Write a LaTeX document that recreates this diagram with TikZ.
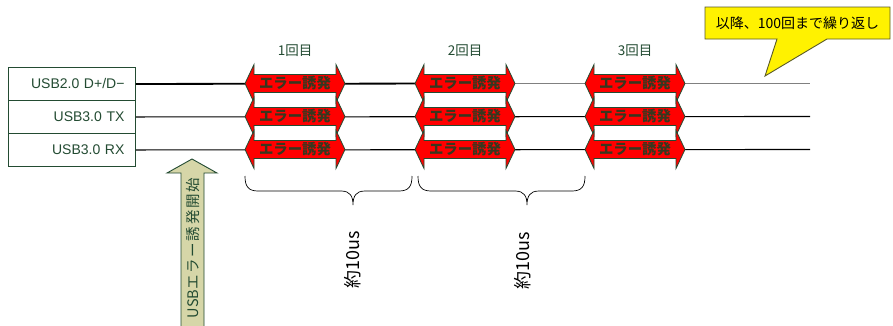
\documentclass[tikz,border=0pt]{standalone}
\usepackage{fontspec}
\setmainfont{Liberation Sans}
\newfontfamily\jp{Noto Sans CJK JP}
\definecolor{dkgreen}{RGB}{35,75,50}
\definecolor{errtext}{RGB}{55,55,30}
\definecolor{khakifill}{RGB}{214,214,168}
\definecolor{callborder}{RGB}{90,90,40}
\definecolor{linegray}{RGB}{128,128,128}
\tikzset{
  labelbox/.style={draw=dkgreen, line width=0.9pt, anchor=north west, minimum height=33pt,
    inner xsep=11pt, inner ysep=0pt, text width=105pt, align=right, text=dkgreen,
    font=\fontsize{14}{16}\selectfont},
  errarrow/.style={fill=red, draw=dkgreen, line width=0.8pt, line join=miter},
  errlabel/.style={text=errtext, inner sep=0pt, font=\jp\bfseries\fontsize{14.4}{16}\selectfont},
  countlabel/.style={text=dkgreen, inner sep=0pt, font=\jp\fontsize{13.5}{15}\selectfont},
  bracestyle/.style={draw=black, line width=0.7pt},
  durlabel/.style={rotate=90, text=black, inner sep=0pt, font=\jp\fontsize{18}{20}\selectfont},
  thickrow/.style={line width=1.8pt},
  thinrow/.style={line width=1.1pt, draw=black}
}
\begin{document}
\begin{tikzpicture}[x=1pt, y=-1pt]
\useasboundingbox (0,0) rectangle (893,325);
\fill[white] (0,0) rectangle (893,325);

% signal boxes
\node[labelbox] (b1) at (8,67) {USB2.0 D+/D\textminus};
\node[labelbox] (b2) at (8,100) {USB3.0 TX};
\node[labelbox] (b3) at (8,133) {USB3.0 RX};

% signal lines
\coordinate (mid1) at (465,83.5);
\coordinate (e1) at (810,83.5);
\coordinate (e2) at (810,116.5);
\coordinate (e3) at (810,149.5);
\draw[thickrow, draw=black] (b1.east) -- (mid1);
\draw[thickrow, draw=linegray] (mid1) -- (e1);
\draw[thinrow] (b2.east) -- (e2);
\draw[thinrow] (b3.east) -- (e3);

% error arrows
\foreach \g/\L in {1/245,2/415,3/585}{
  \foreach \r/\c in {1/83.5,2/116.5,3/149.5}{
    \path[errarrow] (\L,\c) -- (\L+9,\c-19) -- (\L+9,\c-9) -- (\L+91,\c-9) -- (\L+91,\c-19)
      -- (\L+100,\c) -- (\L+91,\c+19) -- (\L+91,\c+9) -- (\L+9,\c+9) -- (\L+9,\c+19) -- cycle;
    \node[errlabel] (err-\g-\r) at (\L+50,\c) {エラー誘発};
  }
}

% count labels
\node[countlabel] (n1) at (295,51) {1回目};
\node[countlabel] (n2) at (465,51) {2回目};
\node[countlabel] (n3) at (635,51) {3回目};

% braces
\draw[bracestyle] (245,176) .. controls (245,186) and (248,191) .. (258,191) -- (341,191)
  .. controls (350,191) and (353,196) .. (353,205)
  .. controls (353,196) and (356,191) .. (365,191) -- (399,191)
  .. controls (409,191) and (412,186) .. (412,176);
\draw[bracestyle] (418,176) .. controls (418,186) and (421,191) .. (431,191) -- (515,191)
  .. controls (524,191) and (527,196) .. (527,205)
  .. controls (527,196) and (530,191) .. (539,191) -- (572,191)
  .. controls (582,191) and (585,186) .. (585,176);
\node[durlabel] (d1) at (353,260) {約10us};
\node[durlabel] (d2) at (523,261) {約10us};

% start arrow
\filldraw[fill=khakifill, draw=dkgreen, line width=0.9pt, line join=miter]
  (181,327) -- (181,173) -- (167,173) -- (192,159) -- (217,173) -- (204,173) -- (204,327);
\node[rotate=90, text=dkgreen, inner sep=0pt,
  font=\jp\fontsize{14.5}{16}\selectfont] (start) at (193,248)
  {USB\addfontfeatures{LetterSpace=12}エラー誘発開始};

% callout
\filldraw[fill=yellow, draw=callborder, line width=0.9pt, line join=miter]
  (705,7) -- (890,7) -- (890,39) -- (827,39) -- (765,76) -- (777,39) -- (705,39) -- cycle;
\node[text=black, inner sep=0pt, font=\jp\fontsize{14}{16}\selectfont] (call) at (797.5,23) {以降、100回まで繰り返し};
\end{tikzpicture}
\end{document}
